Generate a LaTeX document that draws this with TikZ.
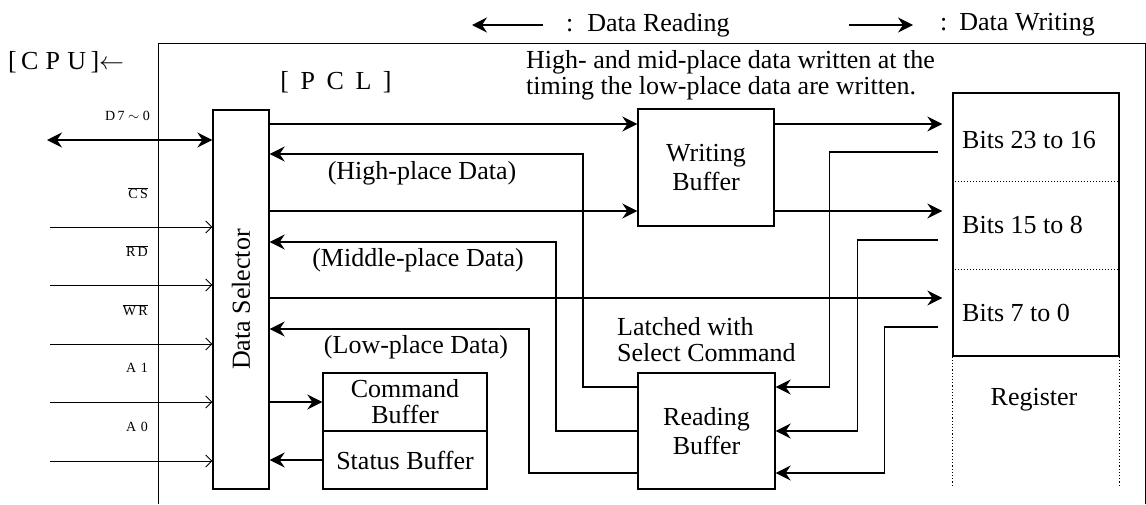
\documentclass[tikz,border=0pt]{standalone}
\usepackage{fontspec}
\setmainfont{Liberation Serif}
\usetikzlibrary{arrows.meta,calc}

\tikzset{
  blk/.style={draw, line width=1.3pt, align=center},
  bus/.style={-{Stealth[length=15pt,width=15pt,inset=5pt]}, line width=1.6pt},
  dbus/.style={{Stealth[length=15pt,width=15pt,inset=5pt]}-{Stealth[length=15pt,width=15pt,inset=5pt]}, line width=1.6pt},
  sig/.style={-{Straight Barb[length=6pt,width=12pt]}, line width=0.9pt},
  lbl/.style={font=\fontsize{14}{15}\selectfont, anchor=east},
}

\begin{document}
\begin{tikzpicture}[x=1pt, y=-1pt, font=\fontsize{26}{29}\selectfont,
    every node/.style={inner sep=0pt}]
      \useasboundingbox (0,0) rectangle (1146,504);

      % Frames
      \draw[line width=1pt] (158,504) -- (158,43) -- (1145,43) -- (1145,504);

      \node[blk, minimum width=56pt, minimum height=379pt] (ds) at (241,299.5) {\rotatebox{90}{Data Selector}};
      \node[blk, minimum width=136pt, minimum height=117pt] (wb) at (706,167.5) {Writing\\Buffer};
      \node[blk, minimum width=137pt, minimum height=116pt] (rb) at (706.5,431) {Reading\\Buffer};
      \node[blk, minimum width=164pt, minimum height=58pt, font=\fontsize{26}{26}\selectfont] (cb) at (405,402) {Command\\Buffer};
      \node[blk, minimum width=164pt, minimum height=58pt] (sb) at (405,460) {Status Buffer};
      \node[blk, minimum width=166pt, minimum height=263pt] (reg) at (1036,224.5) {};

      % Register cells
      \draw[dotted, line width=1pt] (reg.west |- 0,181) -- (reg.east |- 0,181);
      \draw[dotted, line width=1pt] (reg.west |- 0,269) -- (reg.east |- 0,269);
      \draw[dotted, line width=1.2pt] (reg.south west) -- ++(0,129);
      \draw[dotted, line width=1.2pt] (reg.south east) -- ++(0,129);
      \node[anchor=west] (b23) at (962,140) {Bits 23 to 16};
      \node[anchor=west] (b15) at (962,225) {Bits 15 to 8};
      \node[anchor=west] (b7) at (962,313) {Bits 7 to 0};
      \node (regl) at (1034,400) {Register};

      % Titles
      \node[anchor=west] (cpu) at (8,62) {[\,C\;P\;U\,]$\leftarrow$};
      \node (pcl) at (336,82) {[\;\,P\;\,C\;\,L\;\,]};
      \node[anchor=west, align=left, font=\fontsize{26}{26}\selectfont] (note) at (526,75) {High- and mid-place data written at the\\timing the low-place data are written.};
      \node[anchor=west] (lrd) at (566,25) {:\hspace{14pt}Data Reading};
      \node[anchor=west] (lwr) at (940,25) {:\hspace{12pt}Data Writing};
      \draw[bus] ($(lrd.west)+(-23,0)$) -- ++(-71,0);
      \draw[bus] ($(lwr.west)+(-91,0)$) -- ++(64,0);

      % CPU side
      \coordinate (cpubus) at (47,140);
      \draw[dbus] (cpubus) -- (ds.west |- cpubus);
      \node[lbl] (dlab) at (150,116) {D\,7 $\sim$ 0};
      \foreach \y/\s in {227/{$\overline{\mbox{C\,S}}$}, 285/{$\overline{\mbox{R\,D}}$},
                         344/{$\overline{\mbox{W\,R}}$}, 402/{A\,\,1}, 461/{A\,\,0}} {
        \coordinate (in\y) at (50,\y);
        \draw[sig] (in\y) -- (ds.west |- in\y);
        \node[lbl] (lab\y) at (148,\y-34) {\s};
      }

      % Writing
      \draw[bus] (ds.east |- 0,124) -- (wb.west |- 0,124);
      \draw[bus] (ds.east |- 0,211) -- (wb.west |- 0,211);
      \draw[bus] (wb.east |- 0,124) -- ($(reg.west |- 0,124)+(-10,0)$);
      \draw[bus] (wb.east |- 0,211) -- ($(reg.west |- 0,211)+(-10,0)$);
      \draw[bus] (ds.east |- 0,298) -- ($(reg.west |- 0,298)+(-10,0)$);
      \draw[bus] (ds.east |- cb.west) -- (cb.west);

      % Reading
      \draw[bus] ($(reg.west |- 0,152)+(-14,0)$) -| ($(rb.east |- 0,387)+(54,0)$) -- (rb.east |- 0,387);
      \draw[bus] ($(reg.west |- 0,240)+(-14,0)$) -| ($(rb.east |- 0,431)+(82,0)$) -- (rb.east |- 0,431);
      \draw[bus] ($(reg.west |- 0,327)+(-14,0)$) -| ($(rb.east |- 0,473)+(109,0)$) -- (rb.east |- 0,473);
      \draw[bus] (rb.west |- 0,387) -| (583,154) -- (ds.east |- 0,154);
      \draw[bus] (rb.west |- 0,431) -| (556,242) -- (ds.east |- 0,242);
      \draw[bus] (rb.west |- 0,473) -| (529,329) -- (ds.east |- 0,329);
      \draw[bus] (sb.west) -- (ds.east |- sb.west);

      \node (hi) at (422,173) {(High-place Data)};
      \node (mid) at (418,260) {(Middle-place Data)};
      \node (lo) at (416,347) {(Low-place Data)};
      \node[anchor=west, align=left, font=\fontsize{26}{26}\selectfont] (latch) at (617,340) {Latched with\\Select Command};
    \end{tikzpicture}
\end{document}
